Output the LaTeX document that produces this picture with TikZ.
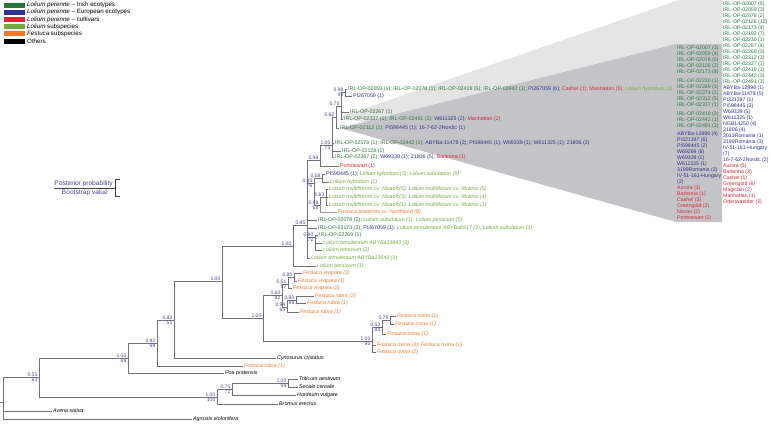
\documentclass[tikz,border=0pt]{standalone}
\usepackage{fontspec}
\setmainfont{Liberation Sans}
\definecolor{cIrish}{RGB}{40,120,60}
\definecolor{cEuro}{RGB}{45,50,145}
\definecolor{cCult}{RGB}{215,40,50}
\definecolor{cLol}{RGB}{115,172,62}
\definecolor{cFes}{RGB}{240,122,42}
\definecolor{cLab}{RGB}{70,70,150}
\definecolor{cBr}{RGB}{112,112,118}
\definecolor{cLight}{RGB}{228,228,228}
\definecolor{cDark}{RGB}{196,196,200}
\newcommand{\Ir}[1]{\textcolor{cIrish}{#1}}
\newcommand{\Eu}[1]{\textcolor{cEuro}{#1}}
\newcommand{\Cv}[1]{\textcolor{cCult}{#1}}
\newcommand{\Ls}[1]{\textcolor{cLol}{\itshape #1}}
\newcommand{\Fs}[1]{\textcolor{cFes}{\itshape #1}}
\newcommand{\Ot}[1]{\textit{#1}}
\newcommand{\PBlab}[3]{%
  \node[pp,anchor=south east] (#1-pp) at ([xshift=-1.5pt,yshift=0.4pt]#1) {#2};
  \node[pp,anchor=north east] (#1-bs) at ([xshift=-1.5pt,yshift=-0.4pt]#1) {#3};}
\newcommand{\Plab}[2]{%
  \node[pp,anchor=south east] (#1-pp) at ([xshift=-1.5pt,yshift=0.4pt]#1) {#2};}
\begin{document}
\begin{tikzpicture}[x=1pt,y=-1pt,
  br/.style={draw=cBr,line width=0.6pt},
  leaf/.style={anchor=west,inner xsep=1pt,inner ysep=0pt,font=\fontsize{5.3}{6}\selectfont},
  pp/.style={inner sep=0pt,text=cLab,font=\fontsize{5}{5.5}\selectfont},
  lgbox/.style={minimum width=20.5pt,minimum height=5pt,inner sep=0pt},
  lgtext/.style={anchor=west,inner sep=0pt,font=\fontsize{6.2}{7}\selectfont},
  col/.style={anchor=north west,inner sep=0pt,align=left,font=\fontsize{5.2}{6.0}\selectfont}]

\useasboundingbox (0,0) rectangle (771,423);
\fill[white] (0,0) rectangle (771,423);

% collapsed-clade wedges
\fill[cLight] (340,117) -- (679,0) -- (722,0) -- (722,205) -- cycle;
\fill[cDark] (340,128) -- (676,44) -- (722,44) -- (722,222) -- (676,222) -- cycle;

% colour legend
\node[lgbox,fill=cIrish] (k1) at (14.25,5) {};
\node[lgbox,fill=cEuro] (k2) at (14.25,12.2) {};
\node[lgbox,fill=cCult] (k3) at (14.25,19.4) {};
\node[lgbox,fill=cLol] (k4) at (14.25,26.6) {};
\node[lgbox,fill=cFes] (k5) at (14.25,33.9) {};
\node[lgbox,fill=black] (k6) at (14.25,41.2) {};
\node[lgtext] (t1) at (27,5) {\textit{Lolium perenne} -- Irish ecotypes};
\node[lgtext] (t2) at (27,12.2) {\textit{Lolium perenne} -- European ecotypes};
\node[lgtext] (t3) at (27,19.4) {\textit{Lolium perenne} -- cultivars};
\node[lgtext] (t4) at (27,26.6) {\textit{Lolium} subspecies};
\node[lgtext] (t5) at (27,33.9) {\textit{Festuca} subspecies};
\node[lgtext] (t6) at (27,41.2) {Others};

% posterior / bootstrap legend
\coordinate (lgin) at (54,188);
\coordinate (lgn) at (115,188);
\coordinate (lgt) at (120,179);
\coordinate (lgb) at (120,196);
\draw[br,draw=black!75] (lgin) -- (lgn);
\draw[br,draw=black!75] (lgn) |- (lgt);
\draw[br,draw=black!75] (lgn) |- (lgb);
\node[anchor=south east,inner sep=0pt,text=cLab,font=\fontsize{6.6}{7}\selectfont] (lgpp) at (113,187) {Posterior probability};
\node[anchor=north east,inner sep=0pt,text=cLab,font=\fontsize{6.6}{7}\selectfont] (lgbs) at (108,190) {Bootstrap value};

% internal nodes (x of node, y of incoming branch)
\coordinate (stub) at (0,402);
\coordinate (R) at (3,402);
\coordinate (A) at (39,377);
\coordinate (B) at (128,358);
\coordinate (C) at (217,397);
\coordinate (K) at (232,389);
\coordinate (L) at (288,383);
\coordinate (D) at (157,343);
\coordinate (E) at (174,320);
\coordinate (F) at (222,281);
\coordinate (G) at (263,318);
\coordinate (P) at (282,295);
\coordinate (Q) at (288,284);
\coordinate (T) at (294,277);
\coordinate (S) at (287,307);
\coordinate (U) at (296,300);
\coordinate (M) at (372,341);
\coordinate (N) at (382,327);
\coordinate (O) at (390,320);
\coordinate (H) at (293,246);
\coordinate (I) at (307,225);
\coordinate (V) at (315,237);
\coordinate (CC) at (314,183);
\coordinate (DD) at (322,178);
\coordinate (EE) at (320,205);
\coordinate (EF) at (326,197);
\coordinate (FF) at (320,160);
\coordinate (GG) at (332,145);
\coordinate (AA) at (336,117);
\coordinate (Z) at (341,106);
\coordinate (Y) at (345,92);

% leaves
\node[leaf] (avena) at (52,411) {\Ot{Avena sativa}};
\node[leaf] (agro) at (192,419) {\Ot{Agrostis stolonifera}};
\node[leaf] (trit) at (298,379) {\Ot{Triticum aestivum}};
\node[leaf] (secale) at (298,387) {\Ot{Secale cereale}};
\node[leaf] (hordeum) at (296,395) {\Ot{Hordeum vulgare}};
\node[leaf] (bromus) at (278,404) {\Ot{Bromus erectus}};
\node[leaf] (poa) at (224,373) {\Ot{Poa pratensis}};
\node[leaf] (frub) at (243,366) {\Fs{Festuca rubra (1)}};
\node[leaf] (cyno) at (276,358) {\Ot{Cynosurus cristatus}};
\node[leaf] (viv1) at (302,273) {\Fs{Festuca vivipara (2)}};
\node[leaf] (viv2) at (297,281) {\Fs{Festuca vivipara (1)}};
\node[leaf] (viv3) at (292,288) {\Fs{Festuca vivipara (2)}};
\node[leaf] (rub1) at (314,296) {\Fs{Festuca rubra (2)}};
\node[leaf] (rub2) at (306,303) {\Fs{Festuca rubra (1)}};
\node[leaf] (rub3) at (299,312) {\Fs{Festuca rubra (1)}};
\node[leaf] (ov1) at (396,316) {\Fs{Festuca ovina (1)}};
\node[leaf] (ov2) at (394,324) {\Fs{Festuca ovina (1)}};
\node[leaf] (ov3) at (386,334) {\Fs{Festuca ovina (1)}};
\node[leaf] (ov4) at (376,345) {\Fs{Festuca ovina (3); Festuca ovina (1)}};
\node[leaf] (ov5) at (376,352) {\Fs{Festuca ovina (2)}};
\node[leaf] (lper) at (316,266) {\Ls{Lolium persicum (1)}};
\node[leaf] (ltem) at (310,258) {\Ls{Lolium temulentum ABYBa13643 (1)}};
\node[leaf] (r16) at (317,220) {\Ir{IRL-OP-02078 (2);} \Ls{Lolium subulatum (1); Lolium persicum (5)}};
\node[leaf] (r17) at (317,228) {\Ir{IRL-OP-02173 (3);} \Eu{PI267059 (1);} \Ls{Lolium temulentum ABYBa6917 (3); Lolium subulatum (1)}};
\node[leaf] (r18) at (318,235) {\Ir{IRL-OP-02269 (1)}};
\node[leaf] (r19) at (322,243) {\Ls{Lolium temulentum ABYBa13643 (8)}};
\node[leaf] (r20) at (322,250) {\Ls{Lolium remotum (3)}};
\node[leaf] (r10) at (325,174) {\Eu{PI598445 (1);} \Ls{Lolium hybridum (3); Lolium subulatum (5)}};
\node[leaf] (r11) at (329,182) {\Ls{Lolium hybridum (1)}};
\node[leaf] (r12) at (328,189) {\Ls{Lolium multiflorum cv. Nivack (5); Lolium multiflorum cv. Multino (5)}};
\node[leaf] (r13) at (328,197) {\Ls{Lolium multiflorum cv. Nivack (3); Lolium multiflorum cv. Multino (4)}};
\node[leaf] (r14) at (328,205) {\Ls{Lolium multiflorum cv. Nivack (1); Lolium multiflorum cv. Multino (1)}};
\node[leaf] (r15) at (337,212) {\Fs{Festuca pratensis cv. Northland (8)}};
\node[leaf] (r9) at (339,166) {\Cv{Portstewart (1)}};
\node[leaf] (r8) at (334,157) {\Ir{IRL-OP-02267 (2);} \Eu{W69339 (1); 21806 (5);} \Cv{Barlenna (1)}};
\node[leaf] (r7) at (341,151) {\Ir{IRL-OP-02128 (1)}};
\node[leaf] (r6) at (334,143) {\Ir{IRL-OP-02078 (1); IRL-OP-02442 (1);} \Eu{ABYBa-11478 (2); PI598445 (1); W69339 (1); W611325 (1); 21806 (2)}};
\node[leaf] (r5) at (339,128) {\Ir{IRL-OP-02312 (1);} \Eu{PI598445 (1); 16-7-62-2Nordic (1)}};
\node[leaf] (r4) at (343,119) {\Ir{IRL-OP-02337 (1); IRL-OP-02491 (2);} \Eu{W611325 (2);} \Cv{Manhattan (2)}};
\node[leaf] (r3) at (349,112) {\Ir{IRL-OP-02267 (1)}};
\node[leaf] (r2) at (352,96) {\Eu{PI267059 (1)}};
\node[leaf] (r1) at (347,89) {\Ir{IRL-OP-02059 (1); IRL-OP-02078 (1); IRL-OP-02419 (5); IRL-OP-02442 (1);} \Eu{PI267059 (6);} \Cv{Cashel (1); Manhattan (5);} \Ls{Lolium hybridum (1)}};

% branches
\draw[br] (stub) -- (R);
\draw[br] (R) |- (A);  \draw[br] (R) |- (avena.west); \draw[br] (R) |- (agro.west);
\draw[br] (A) |- (B);  \draw[br] (A) |- (C);
\draw[br] (B) |- (D);  \draw[br] (B) |- (poa.west);
\draw[br] (D) |- (E);  \draw[br] (D) |- (frub.west);
\draw[br] (E) |- (F);  \draw[br] (E) |- (cyno.west);
\draw[br] (F) |- (H);  \draw[br] (F) |- (G);
\draw[br] (G) |- (P);  \draw[br] (G) |- (M);
\draw[br] (P) |- (Q);  \draw[br] (P) |- (S);
\draw[br] (Q) |- (T);  \draw[br] (Q) |- (viv3.west);
\draw[br] (T) |- (viv1.west); \draw[br] (T) |- (viv2.west);
\draw[br] (S) |- (U);  \draw[br] (S) |- (rub3.west);
\draw[br] (U) |- (rub1.west); \draw[br] (U) |- (rub2.west);
\draw[br] (M) |- (N);  \draw[br] (M) |- (ov4.west); \draw[br] (M) |- (ov5.west);
\draw[br] (N) |- (O);  \draw[br] (N) |- (ov3.west);
\draw[br] (O) |- (ov1.west); \draw[br] (O) |- (ov2.west);
\draw[br] (C) |- (K);  \draw[br] (C) |- (bromus.west);
\draw[br] (K) |- (L);  \draw[br] (K) |- (hordeum.west);
\draw[br] (L) |- (trit.west); \draw[br] (L) |- (secale.west);
\draw[br] (H) |- (I);  \draw[br] (H) |- (lper.west);
\draw[br] (I) |- (FF); \draw[br] (I) |- (CC); \draw[br] (I) |- (r16.west);
\draw[br] (I) |- (r17.west); \draw[br] (I) |- (V); \draw[br] (I) |- (ltem.west);
\draw[br] (V) |- (r18.west); \draw[br] (V) |- (r19.west); \draw[br] (V) |- (r20.west);
\draw[br] (CC) |- (DD); \draw[br] (CC) |- (EE);
\draw[br] (DD) |- (r10.west); \draw[br] (DD) |- (r11.west);
\draw[br] (EE) |- (EF); \draw[br,line width=0.9pt,draw=black!40] (EE) |- (r15.west);
\draw[br] (EF) |- (r12.west); \draw[br] (EF) |- (r13.west); \draw[br] (EF) |- (r14.west);
\draw[br] (FF) |- (GG); \draw[br] (FF) |- (r9.west);
\draw[br] (GG) |- (AA); \draw[br] (GG) |- (r6.west); \draw[br] (GG) |- (r7.west); \draw[br] (GG) |- (r8.west);
\draw[br] (AA) |- (Z); \draw[br] (AA) |- (r5.west);
\draw[br] (Z) |- (Y); \draw[br] (Z) |- (r3.west); \draw[br] (Z) |- (r4.west);
\draw[br] (Y) |- (r1.west); \draw[br] (Y) |- (r2.west);

% support values
\PBlab{A}{0.55}{63}
\PBlab{B}{1.00}{69}
\PBlab{C}{1.00}{100}
\PBlab{K}{0.75}{72}
\PBlab{L}{1.00}{96}
\PBlab{D}{0.92}{69}
\PBlab{E}{0.82}{51}
\Plab{F}{1.00}
\Plab{G}{1.00}
\PBlab{P}{0.60}{92}
\PBlab{Q}{0.51}{57}
\Plab{T}{0.80}
\PBlab{S}{0.94}{65}
\PBlab{U}{0.90}{99}
\PBlab{M}{1.00}{95}
\PBlab{N}{0.53}{84}
\Plab{O}{0.79}
\Plab{H}{1.00}
\Plab{I}{0.95}
\PBlab{V}{0.80}{72}
\PBlab{CC}{0.95}{76}
\Plab{DD}{0.58}
\PBlab{EE}{0.88}{58}
\Plab{EF}{0.63}
\Plab{FF}{0.98}
\PBlab{GG}{1.00}{75}
\Plab{AA}{0.82}
\Plab{Z}{0.75}
\PBlab{Y}{0.98}{99}

% collapsed clade member lists
\node[col] (midcol) at (677,46) {%
\Ir{IRL-OP-02007 (3)}\\ \Ir{IRL-OP-02059 (4)}\\ \Ir{IRL-OP-02078 (5)}\\ \Ir{IRL-OP-02126 (2)}\\
\Ir{IRL-OP-02173 (8)}\\[2.6pt] \Ir{IRL-OP-02230 (1)}\\ \Ir{IRL-OP-02269 (1)}\\ \Ir{IRL-OP-02274 (2)}\\
\Ir{IRL-OP-02312 (5)}\\ \Ir{IRL-OP-02337 (1)}\\[2.6pt] \Ir{IRL-OP-02419 (2)}\\ \Ir{IRL-OP-02442 (1)}\\
\Ir{IRL-OP-02491 (3)}\\[2.6pt] \Eu{ABYBa-12896 (4)}\\ \Eu{PI321397 (6)}\\ \Eu{PI598445 (2)}\\
\Eu{W69266 (8)}\\ \Eu{W69339 (1)}\\ \Eu{W611325 (1)}\\ \Eu{3199Romania (2)}\\
\Eu{IV-51-161-Hungary}\\ \Eu{(2)}\\ \Cv{Aurora (3)}\\ \Cv{Barlenna (1)}\\ \Cv{Cashel (3)}\\
\Cv{Greengold (2)}\\ \Cv{Navan (2)}\\ \Cv{Portstewart (5)}};
\node[col] (rightcol) at (723,2) {%
\Ir{IRL-OP-02007 (5)}\\ \Ir{IRL-OP-02059 (3)}\\ \Ir{IRL-OP-02078 (2)}\\ \Ir{IRL-OP-02126 (12)}\\
\Ir{IRL-OP-02173 (4)}\\ \Ir{IRL-OP-02192 (7)}\\ \Ir{IRL-OP-02230 (1)}\\ \Ir{IRL-OP-02267 (4)}\\
\Ir{IRL-OP-02269 (3)}\\ \Ir{IRL-OP-02312 (3)}\\ \Ir{IRL-OP-02337 (1)}\\ \Ir{IRL-OP-02419 (1)}\\
\Ir{IRL-OP-02442 (3)}\\ \Ir{IRL-OP-02491 (3)}\\ \Eu{ABYBa-12896 (1)}\\ \Eu{ABYBa-11478 (5)}\\
\Eu{PI321397 (1)}\\ \Eu{PI598445 (3)}\\ \Eu{W69339 (5)}\\ \Eu{W611325 (1)}\\ \Eu{NGB14250 (4)}\\
\Eu{21806 (4)}\\ \Eu{3013Romania (1)}\\ \Eu{3199Romania (3)}\\ \Eu{IV-51-161-Hungary}\\ \Eu{(7)}\\
\Eu{16-7-62-2Nordic (2)}\\ \Cv{Aurora (5)}\\ \Cv{Barlenna (3)}\\ \Cv{Cashel (1)}\\
\Cv{Greengold (6)}\\ \Cv{Magician (2)}\\ \Cv{Manhattan (1)}\\ \Cv{Odenwaelder (2)}};
\end{tikzpicture}
\end{document}
